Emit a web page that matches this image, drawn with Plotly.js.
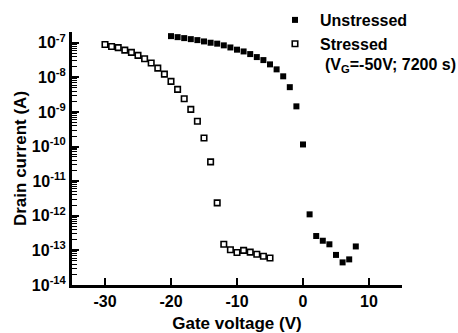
<!DOCTYPE html>
<html>
<head>
<meta charset="utf-8">
<script src="https://cdn.plot.ly/plotly-3.0.1.min.js"></script>
<style>html,body{margin:0;padding:0;background:#fff;}#chart{width:458px;height:333px;}</style>
</head>
<body>
<div id="chart"></div>
<script>
// Unstressed (filled squares)
const unstressedV = [-20,-19,-18,-17,-16,-15,-14,-13,-12,-11,-10,-9,-8,-7,-6,-5,-4,-3,-2,-1,0,1,2,3,4,5,6,7,8];
const unstressedI = [1.55e-7,1.45e-7,1.36e-7,1.27e-7,1.19e-7,1.09e-7,1.0e-7,9.4e-8,8.4e-8,7.3e-8,6.3e-8,5.6e-8,4.7e-8,3.85e-8,3.15e-8,2.37e-8,1.7e-8,1.07e-8,5.2e-9,1.45e-9,1.15e-10,1.1e-12,2.6e-13,1.9e-13,1.5e-13,7.4e-14,4.5e-14,5.5e-14,1.3e-13];
// Stressed (open squares)
const stressedV = [-30,-29,-28,-27,-26,-25,-24,-23,-22,-21,-20,-19,-18,-17,-16,-15,-14,-13,-12,-11,-10,-9,-8,-7,-6,-5];
const stressedI = [8.9e-8,7.8e-8,7.2e-8,6.1e-8,5.25e-8,4.3e-8,3.45e-8,2.6e-8,1.85e-8,1.24e-8,7.65e-9,4.5e-9,2.4e-9,1.19e-9,5.4e-10,1.77e-10,3.6e-11,2.36e-12,1.5e-13,1.04e-13,8.7e-14,1.0e-13,8.9e-14,7.7e-14,6.8e-14,6.0e-14];

const xTickVals = [-30,-20,-10,0,10];
const xTickText = ['-30','-20','-10','0','10'];
const yTickVals = [1e-14,1e-13,1e-12,1e-11,1e-10,1e-9,1e-8,1e-7];
const yTickText = ['10<sup>-14</sup>','10<sup>-13</sup>','10<sup>-12</sup>','10<sup>-11</sup>','10<sup>-10</sup>','10<sup>-9</sup>','10<sup>-8</sup>','10<sup>-7</sup>'];

const seriesNames = ['Unstressed','Stressed'];
const noteText = '(V<sub>G</sub>=-50V; 7200 s)';

// minor tick positions (2..9 within each decade) for the log axis
const minorVals = [];
yTickVals.forEach(function (d) { for (let k = 2; k <= 9; k++) minorVals.push(d * k); });

const FONT = 'Liberation Sans, Arial, sans-serif';
const boldFont = function (size) { return {family: FONT, size: size, color: '#000', weight: 'bold'}; };

const traces = [
  {x: unstressedV, y: unstressedI, name: seriesNames[0], mode: 'markers', type: 'scatter',
   marker: {symbol: 'square', size: 6, color: '#000'}},
  {x: stressedV, y: stressedI, name: seriesNames[1], mode: 'markers', type: 'scatter',
   marker: {symbol: 'square-open', size: 5.5, color: '#000', line: {width: 1.6, color: '#000'}}}
];

const layout = {
  width: 458, height: 333,
  margin: {l: 72, r: 56, t: 32, b: 48, pad: 0, autoexpand: false},
  showlegend: true,
  legend: {xref: 'container', yref: 'container', x: 0.5895, y: 0.991, xanchor: 'left', yanchor: 'top', bgcolor: 'rgba(0,0,0,0)',
           font: boldFont(16), tracegroupgap: 0, itemwidth: 40},
  xaxis: {
    range: [-35, 15], showline: true, linewidth: 3, linecolor: '#000',
    ticks: 'inside', ticklen: 7, tickwidth: 2, tickcolor: '#000', layer: 'above traces',
    tickmode: 'array', tickvals: xTickVals, ticktext: xTickText,
    showgrid: false, zeroline: false,
    tickfont: boldFont(16),
    title: {text: 'Gate voltage (V)', font: boldFont(17)}
  },
  yaxis: {
    type: 'log', range: [-14, -6.69], showline: true, linewidth: 3, linecolor: '#000',
    ticks: 'inside', ticklen: 7, tickwidth: 2, tickcolor: '#000', layer: 'above traces',
    tickmode: 'array', tickvals: yTickVals, ticktext: yTickText,
    minor: {ticks: 'inside', ticklen: 4.5, tickwidth: 1, tickcolor: '#000', tickmode: 'array', tickvals: minorVals, showgrid: false},
    showgrid: false, zeroline: false,
    tickfont: boldFont(16),
    title: {text: 'Drain current (A)', font: boldFont(17)}
  },
  annotations: [
    {text: noteText, xref: 'paper', yref: 'paper', x: 0.762, y: 0.867, xanchor: 'left', yanchor: 'middle',
     showarrow: false, font: boldFont(16)}
  ]
};

Plotly.newPlot('chart', traces, layout, {displayModeBar: false, staticPlot: true});
</script>
</body>
</html>
